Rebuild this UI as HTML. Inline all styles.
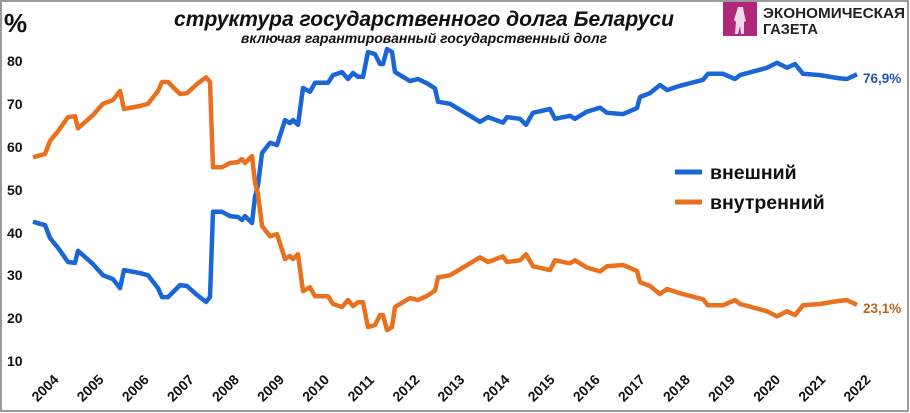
<!DOCTYPE html>
<html><head><meta charset="utf-8"><style>
html,body{margin:0;padding:0;background:#fff}
svg{display:block}
text{font-family:"Liberation Sans",Arial,sans-serif;font-weight:bold}
</style></head><body>
<svg width="910" height="413" viewBox="0 0 910 413" xmlns="http://www.w3.org/2000/svg">
<rect x="1" y="1" width="907" height="410" fill="#fff" stroke="#9a9a9a" stroke-width="2"/>
<text x="4" y="32" font-size="26" fill="#111">%</text>
<text x="424" y="26" font-size="21" font-style="italic" text-anchor="middle" fill="#111" textLength="500" lengthAdjust="spacingAndGlyphs">структура государственного долга Беларуси</text>
<text x="424" y="43" font-size="14" font-style="italic" text-anchor="middle" fill="#111">включая гарантированный государственный долг</text>
<rect x="723" y="2" width="34" height="34" fill="#b0267a"/>
<path d="M738 7 h5 l1 6 l2 8 l-2 1 l0 12 h-3 l-1 -8 l-2 8 h-3 l1 -12 l-2 -2 z" fill="#f3d9e7"/>
<text x="763" y="18" font-size="14.5" fill="#222" textLength="142" lengthAdjust="spacingAndGlyphs">ЭКОНОМИЧЕСКАЯ</text>
<text x="763" y="34" font-size="14.5" fill="#222">ГАЗЕТА</text>
<g font-size="14" fill="#111">
<text x="7" y="66">80</text><text x="7" y="109">70</text><text x="7" y="152">60</text>
<text x="7" y="195">50</text><text x="7" y="238">40</text><text x="7" y="280">30</text>
<text x="7" y="323">20</text><text x="7" y="366">10</text>
</g>
<g id="xl" font-size="14" fill="#111"></g>
<polyline id="pb" fill="none" stroke="#1a66d6" stroke-width="4.5" stroke-linejoin="round"/>
<polyline id="po" fill="none" stroke="#e8701e" stroke-width="4.5" stroke-linejoin="round"/>
<line x1="675" y1="172" x2="702" y2="172" stroke="#1a66d6" stroke-width="5"/>
<line x1="675" y1="202" x2="702" y2="202" stroke="#e8701e" stroke-width="5"/>
<text x="710" y="179" font-size="19.5" fill="#111">внешний</text>
<text x="710" y="209" font-size="19.5" fill="#111">внутренний</text>
<text x="863" y="83" font-size="13.5" fill="#1f57b0">76,9%</text>
<text x="863" y="313" font-size="13.5" fill="#c0601c">23,1%</text>
</svg>
<script>
var d=[[33,42.5],[40,42],[45,41.7],[50,38.7],[58,36.4],[68,33.1],[75,32.9],[78,35.7],[93,32.6],[103,30],[113,29.1],[120,27],[124,31.2],[140,30.5],[148,30],[158,27],[162,24.9],[168,24.9],[180,27.7],[187,27.5],[197,25.4],[206,23.8],[210,24.9],[213,44.8],[222,44.8],[230,43.8],[238,43.6],[242,42.9],[245,43.8],[252,42.2],[255,48.3],[258,51],[262,58.5],[270,60.9],[277,60.4],[285,66.2],[290,65.5],[293,66.2],[298,65.1],[303,73.7],[310,72.8],[315,74.9],[328,74.9],[333,76.7],[342,77.4],[348,75.8],[353,77.2],[358,76.3],[363,76.3],[368,82.1],[375,81.6],[380,79.3],[383,79.3],[387,82.8],[392,82.1],[395,77.4],[410,75.3],[418,75.8],[427,74.8],[435,73.6],[438,70.5],[450,70],[460,68.6],[480,65.8],[488,66.9],[503,65.6],[507,66.9],[520,66.5],[526,65.1],[533,67.9],[550,68.8],[555,66.5],[570,67.2],[575,66.5],[587,68.2],[600,69.1],[607,67.9],[623,67.6],[637,69],[640,71.6],[650,72.5],[660,74.4],[667,73.2],[680,74.2],[703,75.6],[708,77],[723,77],[735,75.8],[740,76.7],[767,78.4],[777,79.6],[787,78.4],[795,79.3],[803,77],[820,76.7],[838,76],[847,75.8],[857,76.9]];
function y(v){return (361-(v-10)*4.286).toFixed(1)}
document.getElementById('pb').setAttribute('points',d.map(p=>p[0]+','+y(p[1])).join(' '));
document.getElementById('po').setAttribute('points',d.map(p=>p[0]+','+y(100-p[1])).join(' '));
var g=document.getElementById('xl'),s='';
for(var i=0;i<19;i++){var cx=45+i*45.1,cy=388;s+='<text x="'+cx+'" y="'+(cy+5)+'" text-anchor="middle" transform="rotate(-45 '+cx+' '+cy+')">'+(2004+i)+'</text>';}
g.innerHTML=s;
</script>
</body></html>
